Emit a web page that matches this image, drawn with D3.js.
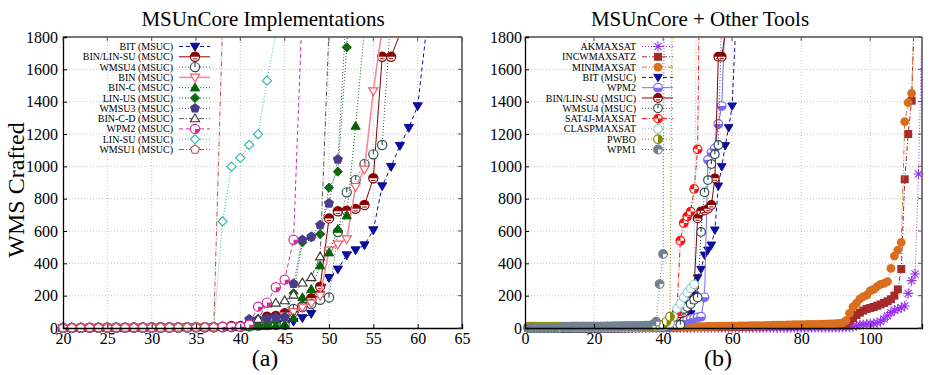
<!DOCTYPE html>
<html>
<head>
<meta charset="utf-8">
<script src="https://cdn.jsdelivr.net/npm/d3@7"></script>
<style>
  body { margin: 0; background: #fff; }
  svg { display: block; font-family: "Liberation Serif", "Times New Roman", serif; }
</style>
</head>
<body>
<svg id="chart" width="931" height="375"></svg>
<script>
// each array: time (s) of the i-th solved instance, i = 1, 2, 3 ...
const bitMsuc = [0,0,0,0,0,0,0,0,0,0, 0,0,0,1,1,1,1,1,1,1, 1,1,1,1,2,2,2,2,2,3,
  3,3,3,4,4,5,6,7,8,10, 12,15,18,22,28,40,62,88,204,311, 363,451,482,513,606,878,998,1128,1239,1373, 1850];
const binLinSuMsuc = [0,0,0,0,0,0,0,0,0,0, 0,0,1,1,1,1,1,1,1,1, 1,2,2,2,2,2,2,3,3,3,
  3,4,4,4,5,5,5,8,12,12, 19,39,70,74,91,98,135,184,256,678, 722,726,737,761,926,1678,1678,1820];
const wmsu4Msuc = [0,0,0,0,0,0,0,0,0,0, 0,0,0,0,1,1,1,1,1,1, 1,1,1,2,2,2,2,2,2,3,
  3,3,3,4,4,4,5,5,6,8, 10,15,19,19,20,118,130,148,175,189, 594,839,915,1014,1074,1132,1950];
const binMsuc = [0,0,0,0,0,0,0,0,0,0, 0,0,0,1,1,1,1,1,1,1, 1,1,2,2,2,2,2,2,3,3,
  3,3,4,4,4,5,5,6,8,10, 15,25,40,55,75,100,128,153,200,480, 518,550,874,981,1466,1850];
const binCMsuc = [0,0,0,0,0,0,0,0,0,0, 0,0,0,0,1,1,1,1,1,1, 1,1,1,1,2,2,2,2,2,2,
  3,3,3,3,4,4,4,5,5,6, 8,10,12,15,22,60,189,240,386,466, 612,695,1249,1850];
const linUsMsuc = [0,0,0,0,0,0,0,0,0,0, 0,0,0,0,1,1,1,1,1,1, 1,1,1,1,2,2,2,2,2,2,
  3,3,3,3,4,4,4,5,5,6, 8,15,20,40,70,215,530,560,581,868, 967,1736,2600];
const wmsu3Msuc = [0,0,0,0,0,0,0,0,0,0, 0,0,0,1,1,1,1,1,1,1, 1,1,2,2,2,2,2,2,3,3,
  3,3,4,4,4,5,5,6,8,12, 54,54,60,66,66,274,545,565,637,771, 1043,2000];
const binCDMsuc = [0,0,0,0,0,0,0,0,0,0, 0,0,0,1,1,1,1,1,1,1, 1,1,2,2,2,2,2,2,3,3,
  3,3,4,4,4,5,5,6,8,12, 20,55,150,155,170,205,280,313,441,1850];
const wpm2Msuc = [0,0,0,0,0,0,0,0,0,0, 0,0,0,1,1,1,1,1,1,1, 1,1,2,2,2,2,2,2,3,3,
  3,3,4,4,4,5,5,6,7,8, 20,132,157,252,299,546,2000];
const linSuMsuc = [0,0,0,0,0,0,0,0,0,0, 0,0,0,1,1,1,1,1,1,1, 1,1,2,2,2,2,2,2,3,3,
  3,3,4,4,4,5,5,660,998,1053, 1132,1198,1530,1820];
const wmsu1Msuc = [0,0,0,0,0,0,0,0,0,0, 0,0,0,1,1,1,1,1,1,1, 1,1,2,2,2,2,2,2,3,3,
  3,3,4,4,4,5,5,1900];

const akmaxsat = [0,0,0,0,0,0,0,0,0,0, 0,0,0,0,0,0,0,0,0,0, 0,0,0,0,0,0,0,0,0,0,
  1,1,1,1,1,1,1,1,1,1, 1,1,1,1,1,1,1,1,1,1, 1,1,1,1,1,1,1,1,1,1,
  2,2,2,2,2,2,2,2,2,2, 2,2,2,2,2,2,2,2,2,2, 3,3,3,3,3,3,3,3,3,3,
  3,4,5,6,8,15,20,22,24,26, 28,32,40,55,75,95,110,118,125,136, 214,293,334,953,1900];
const incwmaxsatz = [0,0,0,0,0,0,0,0,0,0, 1,1,1,1,1,1,1,1,1,1, 1,1,1,1,1,2,2,2,2,2,
  2,2,2,2,2,3,3,3,3,3, 4,4,4,4,5,5,5,5,6,6, 6,6,7,7,7,7,8,8,8,8,
  9,9,9,10,10,10,11,11,11,12, 12,12,13,13,14,14,15,15,16,16, 17,17,18,18,19,19,20,20,21,21,
  22,26,30,45,60,80,95,108,118,124, 130,138,146,155,165,178,200,239,365,920, 1200,1406,2100];
const minimaxsat = [2,2,2,2,2,2,2,2,2,2, 3,3,3,3,3,3,3,3,3,3, 3,3,3,3,3,4,4,4,4,4,
  4,4,4,4,4,5,5,5,5,5, 6,6,6,7,7,7,8,8,8,9, 9,9,10,10,10,11,11,11,12,12,
  12,13,13,13,14,14,14,15,15,16, 16,17,17,18,18,19,19,20,20,21, 21,22,22,23,23,24,24,25,26,27,
  28,32,45,91,130,153,180,194,204,230, 239,256,270,276,287,369,445,482,530,1276, 1394,1452,2100];
const wpm2 = [0,0,0,0,0,0,0,0,0,0, 0,0,0,1,1,1,1,1,1,1, 1,1,2,2,2,2,2,2,3,3,
  3,3,4,4,4,5,5,6,7,8, 10,12,15,20,30,40,50,55,60,65, 70,190,1040,1085,1111,1262,1373,1980];
const sat4jMaxsat = [6,6,6,6,6,6,6,6,6,6, 6,6,6,6,6,6,6,6,6,6, 7,7,7,7,7,7,7,7,7,7,
  7,7,8,8,8,8,8,9,9,10, 15,30,70,100,540,650,690,720,860,1105, 3000];
const claspmaxsat = [3,3,3,3,3,3,3,3,3,3, 3,3,3,3,3,4,4,4,4,4, 4,4,4,4,4,5,5,5,5,5,
  5,5,6,6,6,6,7,7,8,10, 15,30,70,120,150,190,220,245,270,3000];
const pwbo = [9,9,9,9,9,9,9,9,9,9, 9,9,9,9,9,9,9,9,9,9, 9,9,9,9,9,10,10,10,10,10,
  10,10,10,10,11,11,12,13,15,20, 40,70,3000];
const wpm1 = [1,1,1,1,1,1,1,1,1,1, 7,7,7,8,8,8,8,8,9,9, 9,9,9,10,10,10,10,11,11,11,
  12,12,13,13,14,15,20,39,272,458, 5000];

const yTicks = [0, 200, 400, 600, 800, 1000, 1200, 1400, 1600, 1800];
const leftXTicks = [20, 25, 30, 35, 40, 45, 50, 55, 60, 65];
const rightXTicks = [0, 20, 40, 60, 80, 100];

const svg = d3.select("#chart");
const Y0 = 328, Y1 = 37;

// dash patterns
const DASH = { solid: null, dashed: "4,3", dotted: "1,2", dashdot: "5,2,1,2", dashdotdot: "5,2,1,2,1,2" };

function circleParts(g, r, color, parts) {
  g.append("circle").attr("r", r).attr("fill", "#fff").attr("stroke", color).attr("stroke-width", 1.2);
  parts.forEach(d => g.append("path").attr("d", d).attr("fill", color));
}

function drawMarker(g, type, color, cx, cy, r) {
  const m = g.append("g").attr("transform", `translate(${cx},${cy})`);
  const q = r;
  switch (type) {
    case "triDown":
      m.append("path").attr("d", `M0,${q} L${-q},${-q * 0.7} L${q},${-q * 0.7}Z`).attr("fill", color).attr("stroke", color);
      break;
    case "triDownOpen":
      m.append("path").attr("d", `M0,${q} L${-q},${-q * 0.7} L${q},${-q * 0.7}Z`).attr("fill", "#fff").attr("stroke", color).attr("stroke-width", 1.2);
      break;
    case "triUp":
      m.append("path").attr("d", `M0,${-q} L${-q},${q * 0.7} L${q},${q * 0.7}Z`).attr("fill", color).attr("stroke", color);
      break;
    case "triUpOpen":
      m.append("path").attr("d", `M0,${-q} L${-q},${q * 0.7} L${q},${q * 0.7}Z`).attr("fill", "#fff").attr("stroke", color).attr("stroke-width", 1.1);
      break;
    case "diamond":
      m.append("path").attr("d", `M0,${-q} L${q},0 L0,${q} L${-q},0Z`).attr("fill", color).attr("stroke", color);
      break;
    case "diamondOpen":
      m.append("path").attr("d", `M0,${-q} L${q},0 L0,${q} L${-q},0Z`).attr("fill", "#fff").attr("stroke", color).attr("stroke-width", 1.1);
      break;
    case "pentagon":
    case "pentagonOpen": {
      const pts = d3.range(5).map(k => {
        const a = -Math.PI / 2 + k * 2 * Math.PI / 5;
        return [q * Math.cos(a), q * Math.sin(a)];
      });
      m.append("path").attr("d", "M" + pts.join("L") + "Z")
        .attr("fill", type === "pentagon" ? color : "#fff").attr("stroke", color).attr("stroke-width", 1.1);
      break;
    }
    case "square":
      m.append("rect").attr("x", -q).attr("y", -q).attr("width", 2 * q).attr("height", 2 * q).attr("fill", color);
      break;
    case "dot":
      m.append("circle").attr("r", q).attr("fill", color);
      break;
    case "asterisk": {
      const d = q * 0.72;
      m.append("path").attr("d", `M${-q},0H${q}M0,${-q}V${q}M${-d},${-d}L${d},${d}M${-d},${d}L${d},${-d}`)
        .attr("stroke", color).attr("stroke-width", 1.1).attr("fill", "none");
      break;
    }
    case "halfTop":
      circleParts(m, q, color, [`M${-q},0 A${q},${q} 0 0 1 ${q},0Z`]);
      m.append("path").attr("d", `M${-q * 0.5},${q * 0.45}H${q * 0.5}`).attr("stroke", color).attr("stroke-width", 1);
      break;
    case "halfBottom":
      circleParts(m, q, color, [`M${-q},0 A${q},${q} 0 0 0 ${q},0Z`]);
      break;
    case "halfRight":
      circleParts(m, q, color, [`M0,${-q} A${q},${q} 0 0 1 0,${q}Z`]);
      break;
    case "quarter":
      circleParts(m, q, color, [`M0,0 L${q},0 A${q},${q} 0 0 1 0,${q}Z`]);
      break;
    case "clock":
      circleParts(m, q, color, [`M-0.6,0 V${-q} H0.6 V0Z`]);
      break;
    case "circleOpen":
      m.append("circle").attr("r", q).attr("fill", "#fff").attr("stroke", color).attr("stroke-width", 1);
      break;
    case "pinwheel":
      circleParts(m, q, color, [`M0,0 L${-q},0 A${q},${q} 0 0 1 0,${-q}Z`, `M0,0 L${q},0 A${q},${q} 0 0 1 0,${q}Z`]);
      break;
    case "notch":
      circleParts(m, q, color, [`M0,0 L0,${q} A${q},${q} 0 1 1 ${q},0Z`]);
      break;
  }
}

function drawPanel(p) {
  const x = d3.scaleLinear().domain(p.xDomain).range([p.left, p.right]);
  const y = d3.scaleLinear().domain([0, 1800]).range([Y0, Y1]);
  const g = svg.append("g");

  // grid
  g.append("g").selectAll("line").data(p.xTicks.filter(t => t > p.xDomain[0] && t < p.xDomain[1]))
    .join("line").attr("x1", d => x(d)).attr("x2", d => x(d)).attr("y1", Y0).attr("y2", Y1)
    .attr("stroke", "#c4c4c4").attr("stroke-dasharray", "1,2");
  g.append("g").selectAll("line").data(yTicks.slice(1, -1))
    .join("line").attr("x1", p.left).attr("x2", p.right).attr("y1", d => y(d)).attr("y2", d => y(d))
    .attr("stroke", "#c4c4c4").attr("stroke-dasharray", "1,2");

  const clipId = "clip-" + p.id;
  svg.append("clipPath").attr("id", clipId).append("rect")
    .attr("x", p.left).attr("y", Y1).attr("width", p.right - p.left).attr("height", Y0 - Y1);

  const line = d3.line().x(d => x(d[0])).y(d => y(d[1]));
  p.series.forEach(s => {
    const pts = s.data.map((v, i) => [i + 1, v]);
    const sg = g.append("g");
    sg.append("path").attr("d", line(pts)).attr("clip-path", `url(#${clipId})`)
      .attr("fill", "none").attr("stroke", s.lineColor || s.color).attr("stroke-width", s.width || 1)
      .attr("stroke-dasharray", DASH[s.dash]);
    pts.filter(d => d[0] >= p.xDomain[0] && d[0] <= p.xDomain[1] && d[1] <= 1800)
      .forEach(d => drawMarker(sg, s.marker, s.color, x(d[0]), y(d[1]), s.r || p.r));
  });

  // frame: left/bottom black, top/right grey
  g.append("line").attr("x1", p.left).attr("x2", p.right).attr("y1", Y1).attr("y2", Y1).attr("stroke", "#777").attr("stroke-width", 2);
  g.append("line").attr("x1", p.right).attr("x2", p.right).attr("y1", Y1).attr("y2", Y0).attr("stroke", "#777").attr("stroke-width", 2);

  const xAxis = g.append("g").attr("transform", `translate(0,${Y0})`)
    .call(d3.axisBottom(x).tickValues(p.xTicks).tickSize(-4).tickPadding(4).tickFormat(d3.format("d")));
  const yAxis = g.append("g").attr("transform", `translate(${p.left},0)`)
    .call(d3.axisLeft(y).tickValues(yTicks).tickSize(-4).tickPadding(p.yPad).tickFormat(d3.format("d")));
  [xAxis, yAxis].forEach(a => {
    a.attr("font-family", null).attr("font-size", null);
    a.select(".domain").attr("stroke", "#000").attr("stroke-width", 1.3);
    a.selectAll("text").style("font-size", "16px").attr("fill", "#000");
  });
  xAxis.selectAll("text").attr("dy", "0.72em");
  // mirrored ticks on top and right
  g.append("g").selectAll("line").data(p.xTicks).join("line")
    .attr("x1", d => x(d)).attr("x2", d => x(d)).attr("y1", Y1).attr("y2", Y1 + 4).attr("stroke", "#555");
  g.append("g").selectAll("line").data(yTicks).join("line")
    .attr("x1", p.right).attr("x2", p.right - 4).attr("y1", d => y(d)).attr("y2", d => y(d)).attr("stroke", "#555");

  // title and caption
  svg.append("text").attr("x", p.titleX).attr("y", 26).attr("text-anchor", "middle")
    .style("font-size", "21px").text(p.title);
  svg.append("text").attr("x", p.captionX).attr("y", 366).attr("text-anchor", "middle")
    .style("font-size", "24px").text(p.caption);

  // legend
  const lg = svg.append("g");
  p.series.forEach((s, i) => {
    const ly = 46.5 + i * 10.3;
    lg.append("text").attr("x", p.legendX).attr("y", ly).attr("dy", "0.35em").attr("text-anchor", "end")
      .style("font-size", "10px").text(s.name);
    lg.append("line").attr("x1", p.legendX + 6).attr("x2", p.legendX + 37).attr("y1", ly).attr("y2", ly)
      .attr("stroke", s.lineColor || s.color).attr("stroke-width", s.width || 1).attr("stroke-dasharray", DASH[s.dash]);
    drawMarker(lg, s.marker, s.color, p.legendX + 22, ly, s.r || p.r);
  });
}

const BIT = { name: "BIT (MSUC)", color: "#0c0c9c", dash: "dashed", marker: "triDown" };
const BINLIN = { name: "BIN/LIN-SU (MSUC)", color: "#8b0000", dash: "solid", marker: "halfTop" };
const WMSU4 = { name: "WMSU4 (MSUC)", color: "#2f4f4f", dash: "dotted", marker: "clock" };

drawPanel({
  id: "a", xDomain: [20, 65], left: 63, right: 462, xTicks: leftXTicks, yPad: 5, r: 4.6,
  title: "MSUnCore Implementations", titleX: 263, caption: "(a)", captionX: 265, legendX: 173,
  series: [
    Object.assign({ data: bitMsuc }, BIT),
    Object.assign({ data: binLinSuMsuc }, BINLIN),
    Object.assign({ data: wmsu4Msuc }, WMSU4),
    { name: "BIN (MSUC)", data: binMsuc, color: "#f25a6a", lineColor: "#f48a9a", width: 1.6, dash: "solid", marker: "triDownOpen" },
    { name: "BIN-C (MSUC)", data: binCMsuc, color: "#006400", dash: "dotted", marker: "triUp" },
    { name: "LIN-US (MSUC)", data: linUsMsuc, color: "#0d6a0d", dash: "dotted", marker: "diamond" },
    { name: "WMSU3 (MSUC)", data: wmsu3Msuc, color: "#483d8b", dash: "dotted", marker: "pentagon" },
    { name: "BIN-C-D (MSUC)", data: binCDMsuc, color: "#333", lineColor: "#555", dash: "dashdot", marker: "triUpOpen" },
    { name: "WPM2 (MSUC)", data: wpm2Msuc, color: "#d42a9c", dash: "dashed", marker: "quarter" },
    { name: "LIN-SU (MSUC)", data: linSuMsuc, color: "#2cb5ad", dash: "dotted", marker: "diamondOpen" },
    { name: "WMSU1 (MSUC)", data: wmsu1Msuc, color: "#c0504a", dash: "dashdot", marker: "pentagonOpen" }
  ]
});

drawPanel({
  id: "b", xDomain: [0, 115], left: 525, right: 922, xTicks: rightXTicks, yPad: 3, r: 4.3,
  title: "MSUnCore + Other Tools", titleX: 700, caption: "(b)", captionX: 718, legendX: 636,
  series: [
    { name: "AKMAXSAT", data: akmaxsat, color: "#9a30f0", dash: "dotted", marker: "asterisk", r: 5 },
    { name: "INCWMAXSATZ", data: incwmaxsatz, color: "#a52a2a", dash: "dashdot", marker: "square", r: 4 },
    { name: "MINIMAXSAT", data: minimaxsat, color: "#d96f1e", dash: "dashdotdot", marker: "dot", r: 4.4 },
    Object.assign({ data: bitMsuc }, BIT),
    { name: "WPM2", data: wpm2, color: "#7b68ee", dash: "solid", marker: "halfBottom" },
    Object.assign({ data: binLinSuMsuc }, BINLIN),
    Object.assign({ data: wmsu4Msuc }, WMSU4),
    { name: "SAT4J-MAXSAT", data: sat4jMaxsat, color: "#ff1010", dash: "dashdot", marker: "pinwheel" },
    { name: "CLASPMAXSAT", data: claspmaxsat, color: "#70c4c4", dash: "dotted", marker: "circleOpen" },
    { name: "PWBO", data: pwbo, color: "#8a8a00", dash: "dotted", marker: "halfRight" },
    { name: "WPM1", data: wpm1, color: "#708090", dash: "dotted", marker: "notch" }
  ]
});

// y label
svg.append("text").attr("transform", "translate(24,190) rotate(-90)").attr("text-anchor", "middle")
  .style("font-size", "24px").text("WMS Crafted");
</script>
</body>
</html>
